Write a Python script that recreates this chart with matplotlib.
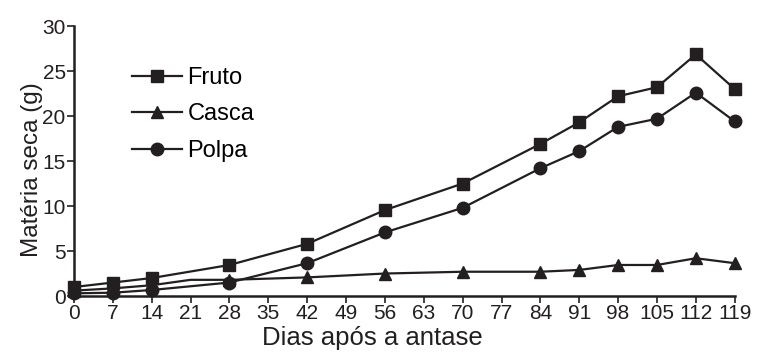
import matplotlib
matplotlib.use("Agg")
import matplotlib.pyplot as plt

plt.rcParams['font.family'] = ['Liberation Sans', 'DejaVu Sans']

# dias após a antese com amostragem
dias = [0, 7, 14, 28, 42, 56, 70, 84, 91, 98, 105, 112, 119]
fruto = [1.0, 1.5, 2.0, 3.45, 5.8, 9.55, 12.5, 16.9, 19.3, 22.2, 23.2, 26.85, 23.0]
polpa = [0.3, 0.37, 0.67, 1.5, 3.65, 7.07, 9.8, 14.2, 16.1, 18.8, 19.7, 22.6, 19.4]
# casca tem um ponto extra (21 dias) sem marcador
dias_casca = [0, 7, 14, 21, 28, 42, 56, 70, 84, 91, 98, 105, 112, 119]
casca = [0.6, 0.85, 1.2, 1.8, 1.8, 2.07, 2.5, 2.7, 2.7, 2.9, 3.45, 3.45, 4.2, 3.65]
casca_marcas = [0, 1, 2, 4, 5, 6, 7, 8, 9, 10, 11, 12, 13]

xticks = list(range(0, 120, 7))
yticks = [0, 5, 10, 15, 20, 25, 30]

fig = plt.figure(figsize=(7.59, 3.52), dpi=100)
ax = fig.add_axes([0.0975, 0.159, 0.8705, 0.767])

kw = dict(color='#231f20', lw=1.6, markersize=9, clip_on=False)
ax.plot(dias, fruto, marker='s', label='Fruto', **kw)
ax.plot(dias_casca, casca, marker='^', markevery=casca_marcas, label='Casca', **kw)
ax.plot(dias, polpa, marker='o', label='Polpa', **kw)

ax.set_xlim(0, 119)
ax.set_ylim(0, 30)
ax.set_xticks(xticks)
ax.set_yticks(yticks)
ax.tick_params(axis='x', labelsize=15, length=5, width=1.2, pad=1, colors='#231f20')
ax.tick_params(axis='y', labelsize=15, length=5, width=1.2, pad=1, colors='#231f20')
for s in ['top', 'right']:
    ax.spines[s].set_visible(False)
for s in ['left', 'bottom']:
    ax.spines[s].set_linewidth(1.8)
    ax.spines[s].set_color('#231f20')

ax.set_xlabel('Dias após a antase', fontsize=18.5, color='#231f20', va='top')
ax.xaxis.set_label_coords(0.452, -0.11)
ax.set_ylabel('Matéria seca (g)', fontsize=17.5, color='#231f20')
ax.yaxis.set_label_coords(-0.047, 0.47)

ax.legend(loc='upper left', bbox_to_anchor=(0.0877, 0.849), frameon=False,
          fontsize=17, handlelength=2.1, handletextpad=0.25, labelspacing=0.62,
          borderpad=0, borderaxespad=0)

fig.savefig('out.png', dpi=100)
